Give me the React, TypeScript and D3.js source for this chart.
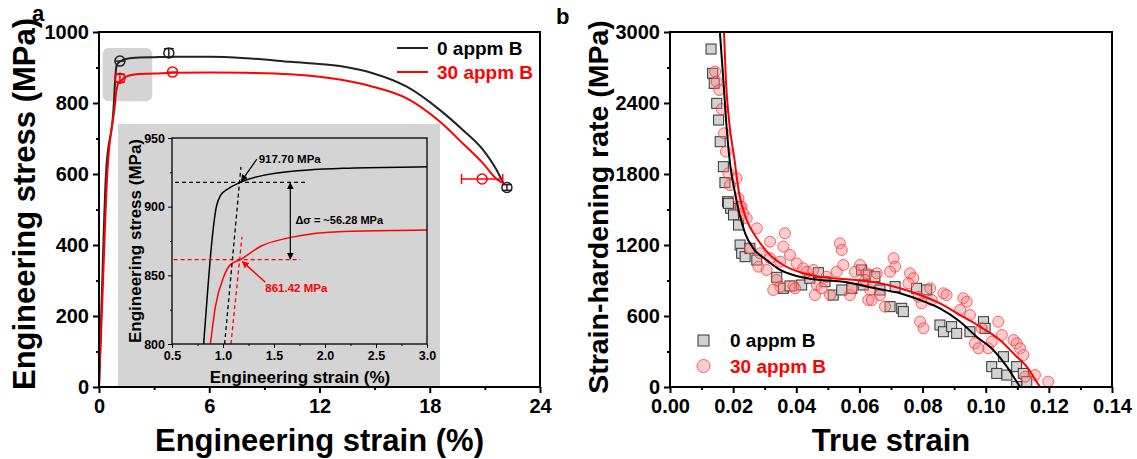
import React, { useRef, useEffect } from "react";
import * as d3 from "d3";

const FONT = "'Liberation Sans', Arial, Helvetica, sans-serif";
const BLACK = "#222";
const RED = "#ff0000";

// panel a: engineering strain (%) vs engineering stress (MPa)
const curve0: [number, number][] = [
  [0, 0], [0.12, 200], [0.38, 600], [0.81, 800], [0.853, 842], [0.886, 871], [0.935, 900],
  [0.974, 908], [1.05, 913], [1.17, 917.7], [1.53, 924.5], [2.18, 928], [3.0, 929], [4, 930],
  [6, 930], [8, 926], [10.4, 916], [13.1, 904], [14.9, 884], [16.75, 846], [18.56, 780],
  [19.8, 724], [20.9, 668], [21.64, 611], [22.0, 574]
];
const curve30: [number, number][] = [
  [0, 0], [0.15, 200], [0.45, 600], [0.876, 800], [0.925, 827], [1.007, 849], [1.07, 857.6],
  [1.17, 861.4], [1.366, 871], [1.69, 878], [2.18, 882], [3.0, 883], [4, 885], [6, 886],
  [8, 885], [10.4, 881], [13.1, 866], [14.9, 846], [16.75, 813], [18.56, 747], [19.8, 686],
  [20.9, 630], [21.7, 583], [22.0, 574]
];
// markers with error bars: x, y, x error, y error
const markers0 = [
  { x: 1.14, y: 918, xe: 0.25, ye: 0 },
  { x: 3.8, y: 941, xe: 0, ye: 12 },
  { x: 22.2, y: 562, xe: 0, ye: 8 }
];
const markers30 = [
  { x: 1.14, y: 870, xe: 0, ye: 11 },
  { x: 4.0, y: 887, xe: 0.28, ye: 0 },
  { x: 20.85, y: 586, xe: 1.12, ye: 0 }
];
const seriesNames = ["0 appm B", "30 appm B"];

const aXTicks = [0, 6, 12, 18, 24];
const aXMinor = [3, 9, 15, 21];
const aYTicks = [0, 200, 400, 600, 800, 1000];
const aYMinor = [100, 300, 500, 700, 900];

// inset
const inXTicks = [0.5, 1.0, 1.5, 2.0, 2.5, 3.0];
const inXMinor = [0.75, 1.25, 1.75, 2.25, 2.75];
const inYTicks = [800, 850, 900, 950];
const inYMinor = [825, 875, 925];
const yield0 = 917.7;
const yield30 = 861.42;
const offsetLine0: [number, number][] = [[1.016, 800], [1.176, 929]];
const offsetLine30: [number, number][] = [[1.078, 800], [1.186, 878]];

// panel b: true strain vs strain-hardening rate (MPa)
const fit0: [number, number][] = [
  [0.0158, 3000], [0.0169, 2594], [0.0180, 2172], [0.0190, 1893], [0.0206, 1640], [0.0217, 1496],
  [0.0238, 1299], [0.0264, 1172], [0.0306, 1073], [0.0349, 989], [0.0401, 938], [0.0475, 904],
  [0.0549, 890], [0.0602, 862], [0.0665, 826], [0.0729, 792], [0.0792, 735], [0.0855, 665],
  [0.0919, 552], [0.0971, 425], [0.1024, 313], [0.1067, 172], [0.1098, 45], [0.1109, 0]
];
const fit30: [number, number][] = [
  [0.0171, 3000], [0.0177, 2594], [0.0188, 2228], [0.0203, 1946], [0.0218, 1650], [0.0243, 1411],
  [0.0275, 1257], [0.0317, 1116], [0.0359, 1031], [0.0422, 961], [0.0486, 927], [0.0560, 910],
  [0.0634, 890], [0.0665, 876], [0.0729, 834], [0.0792, 777], [0.0855, 707], [0.0919, 608],
  [0.0982, 510], [0.1045, 397], [0.1098, 256], [0.1130, 172], [0.1151, 87], [0.1172, 0]
];
const squares0: [number, number][] = [
  [0.0130, 2856], [0.0135, 2651], [0.0140, 2566], [0.0148, 2397], [0.0154, 2256], [0.0159, 2073],
  [0.0169, 1862], [0.0174, 1727], [0.0182, 1566], [0.0192, 1510], [0.0185, 1552], [0.0201, 1454],
  [0.0217, 1369], [0.0222, 1200], [0.0227, 1130], [0.0238, 1101], [0.0253, 1172], [0.0275, 1073],
  [0.0338, 927], [0.0359, 834], [0.0380, 854], [0.0417, 862], [0.0443, 919], [0.0470, 966],
  [0.0491, 890], [0.0517, 777], [0.0544, 820], [0.0576, 834], [0.0607, 989], [0.0628, 946],
  [0.0612, 862], [0.0649, 932], [0.0665, 820], [0.0697, 679], [0.0713, 848], [0.0734, 665],
  [0.0739, 637], [0.0781, 834], [0.0813, 820], [0.0855, 524], [0.0866, 467], [0.0892, 510],
  [0.0908, 453], [0.0950, 467], [0.0993, 552], [0.0998, 496], [0.1019, 172], [0.1035, 115],
  [0.1056, 256], [0.1067, 101], [0.1098, 172], [0.1119, 115], [0.1130, 45], [0.1098, 5]
];
const circles30: [number, number][] = [
  [0.0143, 2665], [0.0148, 2580], [0.0156, 2510], [0.0164, 2349], [0.0171, 2144], [0.0177, 1989],
  [0.0185, 1806], [0.0211, 1764], [0.0190, 1707], [0.0217, 1595], [0.0227, 1524], [0.0222, 1524],
  [0.0232, 1468], [0.0243, 1426], [0.0275, 1341], [0.0364, 1299], [0.0317, 1228], [0.0359, 1186],
  [0.0253, 1172], [0.0285, 1130], [0.0317, 1088], [0.0349, 1059], [0.0380, 1116], [0.0401, 1045],
  [0.0422, 1003], [0.0280, 1017], [0.0306, 989], [0.0338, 904], [0.0349, 848], [0.0327, 820],
  [0.0391, 854], [0.0396, 834], [0.0433, 974], [0.0454, 989], [0.0465, 862], [0.0459, 777],
  [0.0480, 834], [0.0496, 932], [0.0507, 777], [0.0528, 974], [0.0538, 1214], [0.0544, 1158],
  [0.0549, 1031], [0.0570, 777], [0.0576, 834], [0.0586, 974], [0.0602, 1031], [0.0623, 961],
  [0.0628, 735], [0.0708, 1088], [0.0713, 1017], [0.0697, 974], [0.0655, 961], [0.0618, 904],
  [0.0634, 820], [0.0639, 735], [0.0681, 679], [0.0665, 777], [0.0760, 961], [0.0771, 919],
  [0.0755, 876], [0.0787, 763], [0.0797, 707], [0.0824, 834], [0.0829, 735], [0.0866, 792],
  [0.0876, 777], [0.0792, 552], [0.0803, 496], [0.0919, 651], [0.0929, 750], [0.0940, 721],
  [0.0950, 608], [0.0987, 496], [0.1040, 552], [0.1051, 439], [0.0966, 369], [0.0977, 327],
  [0.1008, 327], [0.1019, 383], [0.1088, 397], [0.1098, 369], [0.1109, 327], [0.1119, 270],
  [0.1125, 87], [0.1156, 101], [0.1198, 45]
];

const bXTicks = [0, 0.02, 0.04, 0.06, 0.08, 0.1, 0.12, 0.14];
const bXMinor = [0.01, 0.03, 0.05, 0.07, 0.09, 0.11, 0.13];
const bYTicks = [0, 600, 1200, 1800, 2400, 3000];
const bYMinor = [300, 900, 1500, 2100, 2700];

function axis(g: any, kind: "left" | "bottom", scale: any, pos: number, majors: number[], minors: number[],
  fmt: (d: any) => string, size: number, lw: number, fs: number, pad: number) {
  const mk = kind === "left" ? d3.axisLeft : d3.axisBottom;
  const tr = kind === "left" ? `translate(${pos},0)` : `translate(0,${pos})`;
  g.append("g").attr("transform", tr)
    .call(mk(scale).tickValues(minors).tickSize(size / 2).tickSizeOuter(0).tickFormat(() => ""))
    .call((s: any) => s.select(".domain").remove())
    .call((s: any) => s.selectAll("line").attr("stroke", "#000").attr("stroke-width", lw));
  g.append("g").attr("transform", tr)
    .call(mk(scale).tickValues(majors).tickSize(size).tickSizeOuter(0).tickFormat(fmt).tickPadding(pad))
    .call((s: any) => s.select(".domain").remove())
    .call((s: any) => s.selectAll("line").attr("stroke", "#000").attr("stroke-width", lw))
    .call((s: any) => s.selectAll("text").attr("font-size", fs).attr("font-weight", "bold")
      .attr("fill", "#000").attr("font-family", FONT));
}

export default function App() {
  const ref = useRef<SVGSVGElement>(null);

  useEffect(() => {
    const svg = d3.select(ref.current);
    svg.selectAll("*").remove();
    svg.style("font-family", FONT);

    const defs = svg.append("defs");
    [["arrK", "#000"], ["arrR", RED]].forEach(([id, c]) => {
      defs.append("marker").attr("id", id).attr("viewBox", "0 0 10 10").attr("refX", 9).attr("refY", 5)
        .attr("markerWidth", 7).attr("markerHeight", 7).attr("markerUnits", "userSpaceOnUse")
        .attr("orient", "auto-start-reverse")
        .append("path").attr("d", "M0,0L10,5L0,10z").attr("fill", c);
    });

    // ================= panel a =================
    const xA = d3.scaleLinear().domain([0, 24]).range([99, 540]);
    const yA = d3.scaleLinear().domain([0, 1000]).range([387, 32]);
    const a = svg.append("g");

    // highlight box around yield region
    a.append("rect").attr("x", xA(0.2)).attr("y", yA(955)).attr("width", xA(2.9) - xA(0.2))
      .attr("height", yA(805) - yA(955)).attr("rx", 6).attr("fill", "#d4d4d4");
    // inset background
    a.append("rect").attr("x", 118).attr("y", 124).attr("width", 322).attr("height", 263).attr("fill", "#d4d4d4");

    const lineA = d3.line<[number, number]>().x(d => xA(d[0])).y(d => yA(d[1])).curve(d3.curveMonotoneX);
    a.append("path").attr("d", lineA(curve0)).attr("fill", "none").attr("stroke", BLACK).attr("stroke-width", 2);
    a.append("path").attr("d", lineA(curve30)).attr("fill", "none").attr("stroke", RED).attr("stroke-width", 2);

    const drawMarkers = (list: any[], color: string) => {
      list.forEach(m => {
        const cx = xA(m.x), cy = yA(m.y);
        const g = a.append("g").attr("stroke", color).attr("stroke-width", 1.5).attr("fill", "none");
        g.append("circle").attr("cx", cx).attr("cy", cy).attr("r", 5);
        if (m.xe > 0) {
          const x1 = xA(m.x - m.xe), x2 = xA(m.x + m.xe);
          g.append("line").attr("x1", x1).attr("x2", x2).attr("y1", cy).attr("y2", cy);
          if (x2 - x1 > 12) {
            g.append("line").attr("x1", x1).attr("x2", x1).attr("y1", cy - 5).attr("y2", cy + 5);
            g.append("line").attr("x1", x2).attr("x2", x2).attr("y1", cy - 5).attr("y2", cy + 5);
          }
        }
        if (m.ye > 0) {
          const y1 = yA(m.y + m.ye), y2 = yA(m.y - m.ye);
          g.append("line").attr("x1", cx).attr("x2", cx).attr("y1", y1).attr("y2", y2);
          g.append("line").attr("x1", cx - 5).attr("x2", cx + 5).attr("y1", y1).attr("y2", y1);
          g.append("line").attr("x1", cx - 5).attr("x2", cx + 5).attr("y1", y2).attr("y2", y2);
        }
      });
    };
    drawMarkers(markers0, BLACK);
    drawMarkers(markers30, RED);

    axis(a, "left", yA, 99, aYTicks, aYMinor, d => String(d), 6, 2, 20, 4);
    axis(a, "bottom", xA, 387, aXTicks, aXMinor, d => String(d), 6, 2, 20, 6);
    a.append("rect").attr("x", 99).attr("y", 32).attr("width", 441).attr("height", 355)
      .attr("fill", "none").attr("stroke", "#000").attr("stroke-width", 2);

    // legend
    [BLACK, RED].forEach((c, i) => {
      const y = 48 + i * 24;
      a.append("line").attr("x1", 397).attr("x2", 428).attr("y1", y).attr("y2", y).attr("stroke", c).attr("stroke-width", 2);
      a.append("text").attr("x", 437).attr("y", y).attr("dy", "0.35em").attr("font-size", 19).attr("font-weight", "bold")
        .attr("fill", i === 0 ? "#000" : RED).text(seriesNames[i]);
    });

    a.append("text").attr("transform", "translate(35,204) rotate(-90)").attr("text-anchor", "middle")
      .attr("font-size", 31).attr("font-weight", "bold").text("Engineering stress (MPa)");
    a.append("text").attr("x", xA(12)).attr("y", 451).attr("text-anchor", "middle")
      .attr("font-size", 31).attr("font-weight", "bold").text("Engineering strain (%)");
    a.append("text").attr("x", 32).attr("y", 21).attr("font-size", 22).attr("font-weight", "bold").text("a");

    // ---------- inset ----------
    const xI = d3.scaleLinear().domain([0.5, 3]).range([172, 427]);
    const yI = d3.scaleLinear().domain([800, 950]).range([344, 138]);
    const ins = svg.append("g");
    defs.append("clipPath").attr("id", "clipI").append("rect")
      .attr("x", 172).attr("y", 138).attr("width", 255).attr("height", 206);
    const pl = ins.append("g").attr("clip-path", "url(#clipI)");
    const lineI = d3.line<[number, number]>().x(d => xI(d[0])).y(d => yI(d[1])).curve(d3.curveMonotoneX);
    pl.append("path").attr("d", lineI(curve0)).attr("fill", "none").attr("stroke", "#000").attr("stroke-width", 1.5);
    pl.append("path").attr("d", lineI(curve30)).attr("fill", "none").attr("stroke", RED).attr("stroke-width", 1.5);
    const dash = (x1: number, y1: number, x2: number, y2: number, c: string) =>
      pl.append("line").attr("x1", xI(x1)).attr("y1", yI(y1)).attr("x2", xI(x2)).attr("y2", yI(y2))
        .attr("stroke", c).attr("stroke-width", 1.3).attr("stroke-dasharray", "4,3");
    dash(0.53, yield0, 1.81, yield0, "#000");
    dash(offsetLine0[0][0], offsetLine0[0][1], offsetLine0[1][0], offsetLine0[1][1], "#000");
    dash(0.516, yield30, 1.758, yield30, RED);
    dash(offsetLine30[0][0], offsetLine30[0][1], offsetLine30[1][0], offsetLine30[1][1], RED);

    // annotations
    ins.append("line").attr("x1", xI(1.333)).attr("y1", yI(934.7)).attr("x2", xI(1.18)).attr("y2", yI(918.6))
      .attr("stroke", "#000").attr("stroke-width", 1.2).attr("marker-end", "url(#arrK)");
    ins.append("text").attr("x", xI(1.35)).attr("y", yI(931.5)).attr("font-size", 11.5).attr("font-weight", "bold")
      .text(`${yield0.toFixed(2)} MPa`);
    ins.append("line").attr("x1", xI(1.66)).attr("y1", yI(yield0 - 0.5)).attr("x2", xI(1.66)).attr("y2", yI(yield30 + 0.5))
      .attr("stroke", "#000").attr("stroke-width", 1.2)
      .attr("marker-start", "url(#arrK)").attr("marker-end", "url(#arrK)");
    ins.append("text").attr("x", xI(1.71)).attr("y", yI(887.5)).attr("font-size", 11).attr("font-weight", "bold")
      .text(`\u0394\u03c3 = ~${(yield0 - yield30).toFixed(2)} MPa`);
    ins.append("line").attr("x1", xI(1.415)).attr("y1", yI(845)).attr("x2", xI(1.19)).attr("y2", yI(860))
      .attr("stroke", RED).attr("stroke-width", 1.5).attr("marker-end", "url(#arrR)");
    ins.append("text").attr("x", xI(1.415)).attr("y", yI(838)).attr("font-size", 11.5).attr("font-weight", "bold")
      .attr("fill", RED).text(`${yield30.toFixed(2)} MPa`);

    axis(ins, "left", yI, 172, inYTicks, inYMinor, d => String(d), 4, 1, 12.5, 3);
    axis(ins, "bottom", xI, 344, inXTicks, inXMinor, d => d3.format(".1f")(d), 4, 1, 12.5, 3);
    ins.append("rect").attr("x", 172).attr("y", 138).attr("width", 255).attr("height", 206)
      .attr("fill", "none").attr("stroke", "#000").attr("stroke-width", 1.3);
    ins.append("text").attr("transform", "translate(141,241) rotate(-90)").attr("text-anchor", "middle")
      .attr("font-size", 17).attr("font-weight", "bold").text("Engineering stress (MPa)");
    ins.append("text").attr("x", 300).attr("y", 383).attr("text-anchor", "middle")
      .attr("font-size", 17).attr("font-weight", "bold").text("Engineering strain (%)");

    // ================= panel b =================
    const xB = d3.scaleLinear().domain([0, 0.14]).range([670, 1112]);
    const yB = d3.scaleLinear().domain([0, 3000]).range([387, 32]);
    const b = svg.append("g");
    defs.append("clipPath").attr("id", "clipB").append("rect")
      .attr("x", 670).attr("y", 32).attr("width", 442).attr("height", 355);
    const pb = b.append("g").attr("clip-path", "url(#clipB)");

    pb.selectAll("rect.sq").data(squares0).join("rect").attr("class", "sq")
      .attr("x", d => xB(d[0]) - 5).attr("y", d => yB(d[1]) - 5).attr("width", 10).attr("height", 10)
      .attr("fill", "#d2d2d2").attr("stroke", "#333").attr("stroke-width", 1);
    pb.selectAll("circle.ci").data(circles30).join("circle").attr("class", "ci")
      .attr("cx", d => xB(d[0])).attr("cy", d => yB(d[1])).attr("r", 5.5)
      .attr("fill", "rgba(255,130,130,0.4)").attr("stroke", "rgba(255,40,40,0.7)").attr("stroke-width", 1);

    const lineB = d3.line<[number, number]>().x(d => xB(d[0])).y(d => yB(d[1])).curve(d3.curveMonotoneX);
    pb.append("path").attr("d", lineB(fit0)).attr("fill", "none").attr("stroke", "#000").attr("stroke-width", 2);
    pb.append("path").attr("d", lineB(fit30)).attr("fill", "none").attr("stroke", RED).attr("stroke-width", 2);

    axis(b, "left", yB, 670, bYTicks, bYMinor, d => String(d), 6, 2, 20, 4);
    axis(b, "bottom", xB, 387, bXTicks, bXMinor, d => d3.format(".2f")(d), 6, 2, 20, 6);
    b.append("rect").attr("x", 670).attr("y", 32).attr("width", 442).attr("height", 355)
      .attr("fill", "none").attr("stroke", "#000").attr("stroke-width", 2);

    // legend b
    b.append("rect").attr("x", 698).attr("y", 335).attr("width", 11).attr("height", 11)
      .attr("fill", "#d2d2d2").attr("stroke", "#333").attr("stroke-width", 1);
    b.append("text").attr("x", 730).attr("y", 340).attr("dy", "0.35em").attr("font-size", 19)
      .attr("font-weight", "bold").text(seriesNames[0]);
    b.append("circle").attr("cx", 703.5).attr("cy", 366).attr("r", 6.5)
      .attr("fill", "rgba(255,130,130,0.4)").attr("stroke", "rgba(255,40,40,0.7)").attr("stroke-width", 1);
    b.append("text").attr("x", 730).attr("y", 366).attr("dy", "0.35em").attr("font-size", 19)
      .attr("font-weight", "bold").attr("fill", RED).text(seriesNames[1]);

    b.append("text").attr("transform", "translate(608,207) rotate(-90)").attr("text-anchor", "middle")
      .attr("font-size", 28.5).attr("font-weight", "bold").text("Strain-hardening rate (MPa)");
    b.append("text").attr("x", xB(0.07)).attr("y", 451).attr("text-anchor", "middle")
      .attr("font-size", 31).attr("font-weight", "bold").text("True strain");
    b.append("text").attr("x", 556).attr("y", 24).attr("font-size", 22).attr("font-weight", "bold").text("b");
  }, []);

  return (
    <svg ref={ref} width={1137} height={459}
      style={{ position: "absolute", left: 0, top: 0, background: "#fff" }} />
  );
}
